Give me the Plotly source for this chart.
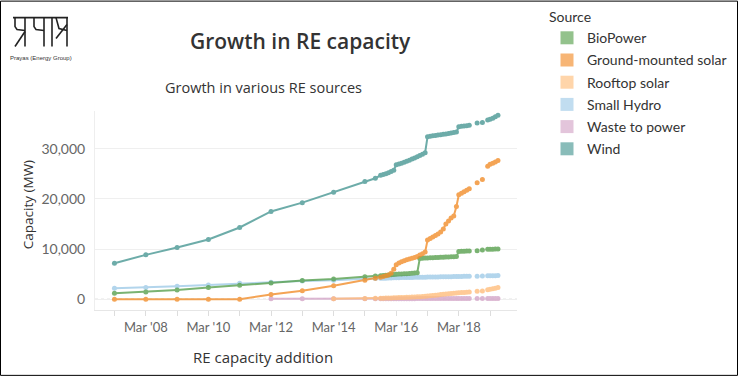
import plotly.graph_objects as go

# ---------------- data ----------------
dates = [
    "2007-03-01", "2008-03-01", "2009-03-01", "2010-03-01", "2011-03-01",
    "2012-03-01", "2013-03-01", "2014-03-01", "2015-03-01", "2015-07-01",
    "2015-09-01", "2015-10-01", "2015-11-01", "2015-12-01",
    "2016-01-01", "2016-02-01", "2016-03-01", "2016-04-01", "2016-05-01", "2016-06-01",
    "2016-07-01", "2016-08-01", "2016-09-01", "2016-10-01", "2016-11-01", "2016-12-01",
    "2017-01-01", "2017-02-01", "2017-03-01", "2017-04-01", "2017-05-01", "2017-06-01",
    "2017-07-01", "2017-08-01", "2017-09-01", "2017-10-01", "2017-11-01", "2017-12-01",
    "2018-01-01", "2018-02-01", "2018-03-01", "2018-04-01", "2018-05-01", "2018-06-01",
    "2018-07-01", "2018-08-01", "2018-09-01", "2018-10-01", "2018-11-01", "2018-12-01",
    "2019-01-01", "2019-02-01", "2019-03-01", "2019-04-01", "2019-05-01", "2019-06-01",
]

wind = [
    7200, 8850, 10300, 11900, 14300, 17500, 19250, 21300, 23450, 24100,
    24700, 24850, 25000, 25200,
    25450, 25700, 26800, 26950, 27100, 27300, 27500, 27700, 27950, 28150, 28400, 28650,
    28900, 29200, 32350, 32450, 32550, 32600, 32700, 32750, 32850, 32900, 33000, 33100,
    33200, 33300, 34350, 34450, 34500, 34550, 34650, None, None, 35100, None, 35200,
    None, 35700, 35850, 36050, 36350, 36650,
]

ground_solar = [
    0, 0, 0, 0, 30, 950, 1700, 2700, 3800, 4200,
    4400, 4550, 4700, 4850,
    5200, 6000, 6900, 7250, 7500, 7700, 7900, 8050, 8200, 8350, 8550, 8800,
    9050, 9400, 11800, 12100, 12400, 12700, 13000, 13400, 14000, 15000, 15600, 16200,
    16600, 18500, 20800, 21100, 21400, 21700, 22000, None, None, 23200, None, 23850,
    None, 26500, 26900, 27100, 27350, 27650,
]

rooftop_solar = [
    None, None, None, None, None, None, None, 100, 150, 200,
    220, 230, 240, 260,
    280, 300, 320, 340, 360, 380, 400, 420, 440, 470, 500, 530,
    570, 610, 650, 700, 760, 820, 880, 950, 1000, 1050, 1100, 1150,
    1200, 1250, 1300, 1340, 1380, 1420, 1450, None, None, 1600, None, 1650,
    None, 1900, 2000, 2100, 2200, 2350,
]

small_hydro = [
    2200, 2330, 2600, 2870, 3200, 3400, 3650, 3800, 4100, 4150,
    4180, 4200, 4210, 4230,
    4250, 4270, 4300, 4310, 4320, 4330, 4340, 4350, 4360, 4370, 4380, 4390,
    4400, 4410, 4420, 4430, 4440, 4450, 4460, 4470, 4480, 4490, 4500, 4510,
    4520, 4530, 4550, 4560, 4570, 4580, 4590, None, None, 4610, None, 4630,
    None, 4680, 4690, 4700, 4710, 4720,
]

biopower = [
    1200, 1470, 1870, 2330, 2800, 3270, 3730, 4050, 4500, 4650,
    4700, 4750, 4800, 4850,
    4900, 4950, 5000, 5020, 5050, 5080, 5100, 5150, 5200, 5250, 5300, 8150,
    8200, 8220, 8250, 8280, 8300, 8330, 8350, 8380, 8400, 8420, 8450, 8470,
    8500, 8520, 9500, 9550, 9580, 9600, 9620, None, None, 9650, None, 9800,
    None, 9950, 9960, 9980, 10000, 10000,
]

waste_to_power = [
    None, None, None, None, None, 100, 105, 110, 120, 125,
    127, 127, 128, 130,
    130, 131, 132, 133, 134, 135, 136, 137, 138, 138, 139, 140,
    140, 141, 142, 143, 144, 145, 146, 147, 148, 149, 150, 150,
    151, 152, 153, 154, 155, 156, 157, None, None, 158, None, 159,
    None, 160, 161, 162, 163, 164,
]

series_names = ["BioPower", "Ground-mounted solar", "Rooftop solar",
                "Small Hydro", "Waste to power", "Wind"]
series_colors = ["#59A14F", "#F28E2B", "#FFBE7D", "#A0CBE8", "#D4A6C8", "#499894"]
series_values = [biopower, ground_solar, rooftop_solar, small_hydro, waste_to_power, wind]

x_tick_vals = ["2008-03-01", "2010-03-01", "2012-03-01", "2014-03-01", "2016-03-01", "2018-03-01"]
x_tick_text = ["Mar '08", "Mar '10", "Mar '12", "Mar '14", "Mar '16", "Mar '18"]
x_minor_vals = ["2007-03-01", "2009-03-01", "2011-03-01", "2013-03-01", "2015-03-01",
                "2017-03-01", "2019-03-01"]
y_tick_vals = [0, 10000, 20000, 30000]
y_tick_text = ["0", "10,000", "20,000", "30,000"]

# ---------------- layout geometry (pixels) ----------------
W, H = 738, 376
L, R, T, B = 95, 517, 110.6, 310


def px(x):
    return (x - L) / (R - L)


def py(y):
    return (B - y) / (B - T)


fig = go.Figure()

draw_order = ["Small Hydro", "Waste to power", "Rooftop solar", "BioPower",
              "Ground-mounted solar", "Wind"]
for name in draw_order:
    i = series_names.index(name)
    fig.add_trace(go.Scatter(
        x=dates, y=series_values[i], name=name, mode="lines+markers",
        line=dict(color=series_colors[i], width=2),
        marker=dict(color=series_colors[i], size=5),
        opacity=0.8, connectgaps=False, showlegend=False,
    ))

# legend entries (square swatches)
for i, name in enumerate(series_names):
    fig.add_trace(go.Scatter(
        x=[None], y=[None], name=name, mode="markers", legendgroup=name,
        marker=dict(symbol="square", size=13, color=series_colors[i], opacity=0.65),
        showlegend=True,
    ))

txt = "#333333"
shapes = []
# dotted zero line
shapes.append(dict(type="line", xref="paper", yref="y", x0=0, x1=1, y0=0, y1=0,
                   line=dict(color="#b0b0b0", width=1, dash="dot"), layer="below"))
# outer border
shapes.append(dict(type="rect", xref="paper", yref="paper",
                   x0=px(0.5), x1=px(W - 0.5), y0=py(0.5), y1=py(H - 0.5),
                   line=dict(color="#000000", width=1)))

# logo strokes (pixel paths)
logo_paths = [
    [(13, 17), (68, 17)],
    [(15, 17), (15, 26), (17, 29), (25, 30)],
    [(25, 17), (25, 46)],
    [(25, 31), (15, 46)],
    [(34, 17), (34, 26), (36, 29), (44, 30)],
    [(44, 17), (44, 46)],
    [(52, 17), (52, 46)],
    [(56, 17), (59, 28), (67, 30)],
    [(56, 38), (67, 24)],
    [(67, 17), (67, 46)],
]
for pts in logo_paths:
    d = "M" + " L".join(f"{px(a):.5f},{py(b):.5f}" for a, b in pts)
    shapes.append(dict(type="path", xref="paper", yref="paper", path=d,
                       line=dict(color="#222222", width=1.6)))

annotations = [
    dict(text="Growth in RE capacity", x=px(300), y=py(40), xref="paper", yref="paper",
         showarrow=False, xanchor="center", yanchor="middle",
         font=dict(family="Open Sans", size=21, color=txt, weight=600)),
    dict(text="Growth in various RE sources", x=px(263), y=py(87), xref="paper", yref="paper",
         showarrow=False, xanchor="center", yanchor="middle",
         font=dict(family="Open Sans", size=14.5, color=txt)),
    dict(text="Capacity (MW)", x=px(28), y=py(205), xref="paper", yref="paper",
         showarrow=False, xanchor="center", yanchor="middle", textangle=-90,
         font=dict(family="Open Sans", size=13.5, color=txt)),
    dict(text="RE capacity addition", x=px(263), y=py(357), xref="paper", yref="paper",
         showarrow=False, xanchor="center", yanchor="middle",
         font=dict(family="Open Sans", size=15, color=txt)),
    dict(text="Prayas (Energy Group)", x=px(41), y=py(57), xref="paper", yref="paper",
         showarrow=False, xanchor="center", yanchor="middle",
         font=dict(family="Liberation Sans Narrow, Liberation Sans", size=6, color=txt)),
]

fig.update_layout(
    width=W, height=H, autosize=False,
    margin=dict(l=L, r=W - R, t=T, b=H - B, pad=0),
    paper_bgcolor="white", plot_bgcolor="white",
    font=dict(family="Lato", size=13, color="#666666"),
    shapes=shapes, annotations=annotations,
    showlegend=True,
    legend=dict(
        xref="container", yref="container",
        x=547 / W, y=1 - 4 / H, xanchor="left", yanchor="top",
        title=dict(text="Source", font=dict(family="Lato", size=14, color=txt)),
        font=dict(family="Lato", size=14, color=txt),
        traceorder="grouped", tracegroupgap=1,
        bgcolor="rgba(0,0,0,0)",
    ),
    xaxis=dict(
        type="date", range=["2006-07-17", "2020-01-09"],
        tickvals=x_tick_vals, ticktext=x_tick_text,
        ticks="outside", ticklen=5, tickcolor="#dddddd",
        minor=dict(tickvals=x_minor_vals, ticks="outside", ticklen=5, tickcolor="#dddddd"),
        showgrid=False, zeroline=False,
        showline=True, linecolor="#e6e6e6", linewidth=1,
        tickfont=dict(family="Lato", size=13, color="#666666"),
        fixedrange=True,
    ),
    yaxis=dict(
        range=[-2126, 37494],
        tickvals=y_tick_vals, ticktext=y_tick_text,
        showgrid=True, gridcolor="#efefef", gridwidth=1, zeroline=False,
        showline=True, linecolor="#eeeeee", linewidth=1,
        ticks="", ticklabelstandoff=6,
        tickfont=dict(family="Lato", size=14, color="#666666"),
        fixedrange=True,
    ),
)

fig.write_html("out.html", config={"displayModeBar": False},
               post_script="document.body.style.margin='0px';")
